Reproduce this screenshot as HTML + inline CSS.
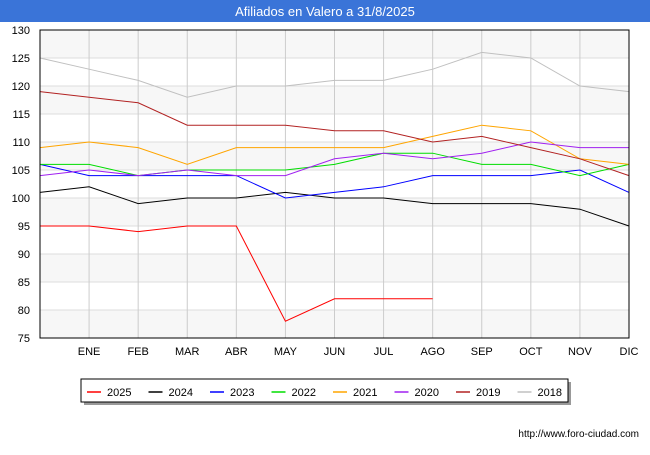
<!DOCTYPE html>
<html><head><meta charset="utf-8"><style>
body{margin:0;background:#fff;font-family:"Liberation Sans",sans-serif}
svg text{font-family:"Liberation Sans",sans-serif}
</style></head><body>
<svg width="650" height="450" id="c">
<rect x="0" y="0" width="650" height="22" fill="#3a74d8"/>
<text x="325" y="16" text-anchor="middle" fill="#fff" font-size="13">Afiliados en Valero a 31/8/2025</text>
<g id="grid"></g><g id="lines"></g>
<rect x="40" y="30" width="589" height="308" fill="none" stroke="#000"/>
<g id="legend">
<rect x="84" y="382" width="487" height="23" fill="#999"/>
<rect x="81" y="379" width="487" height="23" fill="#fff" stroke="#000"/>
</g>
<text x="639" y="437" text-anchor="end" font-size="10">http://www.foro-ciudad.com</text>
</svg>
<script>
const categories=["","ENE","FEB","MAR","ABR","MAY","JUN","JUL","AGO","SEP","OCT","NOV","DIC"];
const yTicks=[75,80,85,90,95,100,105,110,115,120,125,130];
const seriesNames=["2025","2024","2023","2022","2021","2020","2019","2018"];
const colors=["#ff0000","#000000","#0000ff","#00dd00","#ffa500","#a020f0","#b22222","#c0c0c0"];
const s2025=[95,95,94,95,95,78,82,82,82];
const s2024=[101,102,99,100,100,101,100,100,99,99,99,98,95];
const s2023=[106,104,104,104,104,100,101,102,104,104,104,105,101];
const s2022=[106,106,104,105,105,105,106,108,108,106,106,104,106];
const s2021=[109,110,109,106,109,109,109,109,111,113,112,107,106];
const s2020=[104,105,104,105,104,104,107,108,107,108,110,109,109];
const s2019=[119,118,117,113,113,113,112,112,110,111,109,107,104];
const s2018=[125,123,121,118,120,120,121,121,123,126,125,120,119];
const allSeries=[s2025,s2024,s2023,s2022,s2021,s2020,s2019,s2018];
const NS="http://www.w3.org/2000/svg";
const x=i=>40+i*589/12, y=v=>338-(v-75)*308/55;
function mk(t,a,p){const e=document.createElementNS(NS,t);for(const k in a)e.setAttribute(k,a[k]);p.appendChild(e);return e;}
const g=document.getElementById('grid');
for(let i=0;i<yTicks.length-1;i++){if(i%2==0){const r=mk('rect',{x:40,y:y(yTicks[i+1]),width:589,height:y(yTicks[i])-y(yTicks[i+1]),fill:'#f7f7f7'},g);

}}
yTicks.forEach(v=>{const l=mk('line',{x1:40,x2:629,y1:y(v),y2:y(v),stroke:'#ddd'},g);


const t=mk('text',{x:30,y:y(v)+4,'text-anchor':'end','font-size':11},g);t.textContent=v;

});
categories.forEach((c,i)=>{if(i>0){const l=mk('line',{x1:x(i),x2:x(i),y1:30,y2:338,stroke:'#ccc'},g);

}
const t=mk('text',{x:x(i),y:355,'text-anchor':'middle','font-size':11},g);t.textContent=c;

});
const L=document.getElementById('lines');
allSeries.forEach((s,k)=>{const p=mk('polyline',{points:s.map((v,i)=>x(i)+','+y(v)).join(' '),fill:'none',stroke:colors[k],'stroke-width':1},L);

});
const lg=document.getElementById('legend');
seriesNames.forEach((n,k)=>{const lx=87+k*61.5;
const l=mk('line',{x1:lx,x2:lx+14,y1:392,y2:392,stroke:colors[k],'stroke-width':1.5},lg);


const t=mk('text',{x:lx+20,y:396,'font-size':11},lg);t.textContent=n;

});
</script>
</body></html>
